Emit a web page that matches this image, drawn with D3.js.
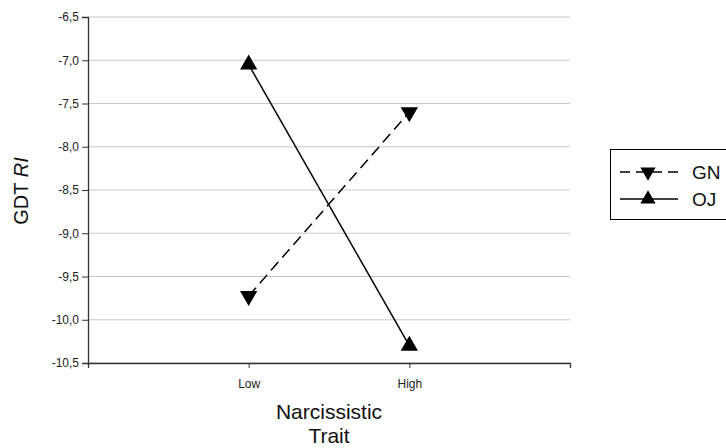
<!DOCTYPE html>
<html><head><meta charset="utf-8">
<script src="https://cdn.jsdelivr.net/npm/d3@7"></script>
<style>body{margin:0;background:#fff}svg{display:block}text{font-family:Arial,"Liberation Sans",sans-serif}</style>
</head><body>
<script>
const categories = ["Low", "High"];
const seriesNames = ["GN", "OJ"];
const gnValues = [-9.725, -7.6];
const ojValues = [-7.05, -10.3];
const yTicks = [-6.5, -7.0, -7.5, -8.0, -8.5, -9.0, -9.5, -10.0, -10.5];

(function () {
const W = 726, H = 448;
const svg = d3.select("body").append("svg").attr("width", W).attr("height", H);
const pLeft = 88, pRight = 570, pTop = 17, pBottom = 363;

const x = d3.scaleLinear().domain([0, 3]).range([pLeft, pRight]);
const y = d3.scaleLinear().domain([-10.5, -6.5]).range([pBottom, pTop]);

// gridlines
svg.append("g").selectAll("line").data(yTicks).join("line")
  .attr("x1", pLeft).attr("x2", pRight)
  .attr("y1", d => y(d)).attr("y2", d => y(d))
  .attr("stroke", "#c8c8c8").attr("stroke-width", 1);

// y axis
const fmt = d => d3.format(".1f")(d).replace("−", "-").replace(".", ",");
const yAxis = svg.append("g").attr("transform", `translate(${pLeft},0)`)
  .call(d3.axisLeft(y).tickValues(yTicks).tickSize(6).tickPadding(3).tickFormat(fmt));
yAxis.select(".domain").attr("stroke", "#333").attr("stroke-width", 1.3);
yAxis.selectAll(".tick line").attr("stroke", "#333");
yAxis.selectAll(".tick text").attr("font-size", 12).attr("fill", "#222");

// x axis
const xAxis = svg.append("g").attr("transform", `translate(0,${pBottom})`)
  .call(d3.axisBottom(x).tickValues([1, 2]).tickSize(5).tickPadding(11)
    .tickFormat((d, i) => categories[i]));
xAxis.select(".domain").attr("stroke", "#333").attr("stroke-width", 1.3);
xAxis.selectAll(".tick line").attr("stroke", "#333");
xAxis.selectAll(".tick text").attr("font-size", 12).attr("fill", "#222");

// axis titles
const yt = svg.append("text").attr("transform", `translate(28,${(pTop + pBottom) / 2 + 1}) rotate(-90)`)
  .attr("text-anchor", "middle").attr("font-size", 20).attr("fill", "#111");
yt.append("tspan").text("GDT ");
yt.append("tspan").attr("font-style", "italic").text("RI");

svg.append("text").attr("x", x(1.5)).attr("y", 419).attr("text-anchor", "middle")
  .attr("font-size", 21).attr("fill", "#111").text("Narcissistic");
svg.append("text").attr("x", x(1.5)).attr("y", 443).attr("text-anchor", "middle")
  .attr("font-size", 21).attr("fill", "#111").text("Trait");

const tri = d3.symbol().type(d3.symbolTriangle).size(130);
const triL = d3.symbol().type(d3.symbolTriangle).size(100);
const line = d3.line().x((d, i) => x(i + 1)).y(d => y(d));

// GN dashed
svg.append("path").datum(gnValues).attr("d", line).attr("fill", "none")
  .attr("stroke", "#000").attr("stroke-width", 1.5).attr("stroke-dasharray", "11,6");
// OJ solid
svg.append("path").datum(ojValues).attr("d", line).attr("fill", "none")
  .attr("stroke", "#000").attr("stroke-width", 1.5);

svg.append("g").selectAll("path").data(gnValues).join("path")
  .attr("d", tri).attr("fill", "#000")
  .attr("transform", (d, i) => `translate(${x(i + 1)},${y(d)}) rotate(180)`);
svg.append("g").selectAll("path").data(ojValues).join("path")
  .attr("d", tri).attr("fill", "#000")
  .attr("transform", (d, i) => `translate(${x(i + 1)},${y(d)})`);

// legend
const lg = svg.append("g");
lg.append("rect").attr("x", 610.5).attr("y", 149.5).attr("width", 130).attr("height", 70)
  .attr("fill", "#fff").attr("stroke", "#000").attr("stroke-width", 1);
const legendRows = [
  {name: seriesNames[0], dash: "10,6", rot: 180, yy: 172},
  {name: seriesNames[1], dash: null, rot: 0, yy: 199}
];
legendRows.forEach(r => {
  lg.append("line").attr("x1", 620).attr("x2", 678).attr("y1", r.yy).attr("y2", r.yy)
    .attr("stroke", "#000").attr("stroke-width", 1.5).attr("stroke-dasharray", r.dash);
  lg.append("path").attr("d", triL).attr("fill", "#000")
    .attr("transform", `translate(648,${r.yy}) rotate(${r.rot})`);
  lg.append("text").attr("x", 692).attr("y", r.yy + 7).attr("font-size", 19)
    .attr("fill", "#111").text(r.name);
});
})();
</script>
</body></html>
